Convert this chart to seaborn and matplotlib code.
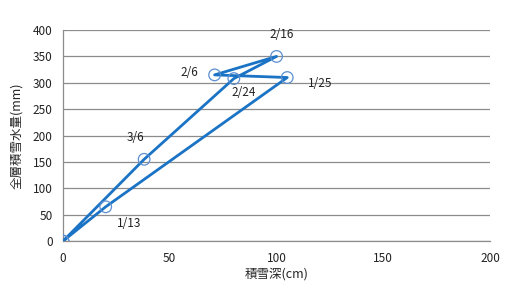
import matplotlib
matplotlib.use("Agg")
import matplotlib.pyplot as plt
import seaborn as sns
import pandas as pd

dates = ["", "1/13", "1/25", "2/6", "2/16", "2/24", "3/6", ""]
depth = [0, 20, 105, 71, 100, 80, 38, 0]
swe = [0, 65, 310, 315, 350, 308, 155, 0]
label_offsets = {"1/13": (17, -12), "1/25": (24, -4), "2/6": (-18, 2),
                 "2/16": (4, 16), "2/24": (7, -10), "3/6": (-6, 16)}

df = pd.DataFrame({"depth": depth, "swe": swe, "date": dates})

sns.set_style("white")
plt.rcParams['font.family'] = ['Noto Sans CJK JP', 'DejaVu Sans']

fig = plt.figure(figsize=(5.1, 2.86), dpi=100)
ax = fig.add_axes([0.1235, 0.157, 0.8375, 0.738])

sns.lineplot(data=df, x="depth", y="swe", sort=False, estimator=None, ax=ax,
             color="#1a73c4", linewidth=2.0, zorder=3)
sns.scatterplot(data=df, x="depth", y="swe", ax=ax, s=70, facecolor="none",
                edgecolor="#5b8fd0", linewidth=0.9, zorder=4)

for d, xv, yv in zip(dates, depth, swe):
    if d:
        dx, dy = label_offsets[d]
        ax.annotate(d, (xv, yv), xytext=(dx, dy), textcoords="offset points",
                    ha="center", va="center", fontsize=8.5, color="#222222")

ax.set_xlim(0, 200)
ax.set_ylim(0, 400)
ax.set_xticks([0, 50, 100, 150, 200])
ax.set_yticks(range(0, 401, 50))
ax.yaxis.grid(True, color="#8c8c8c", linewidth=0.9)
ax.xaxis.grid(False)
ax.set_axisbelow(True)
for s in ["top", "right"]:
    ax.spines[s].set_visible(False)
for s in ["left", "bottom"]:
    ax.spines[s].set_color("#8c8c8c")
    ax.spines[s].set_linewidth(0.9)
ax.tick_params(axis="both", labelsize=8.5, colors="#222222", length=4, width=0.9)
ax.tick_params(axis="x", color="#8c8c8c")
ax.tick_params(axis="y", color="#8c8c8c")
ax.set_xlabel("積雪深(cm)", fontsize=9, labelpad=2)
ax.set_ylabel("全層積雪水量(mm)", fontsize=9, labelpad=7)

fig.savefig("out.png", dpi=100)
